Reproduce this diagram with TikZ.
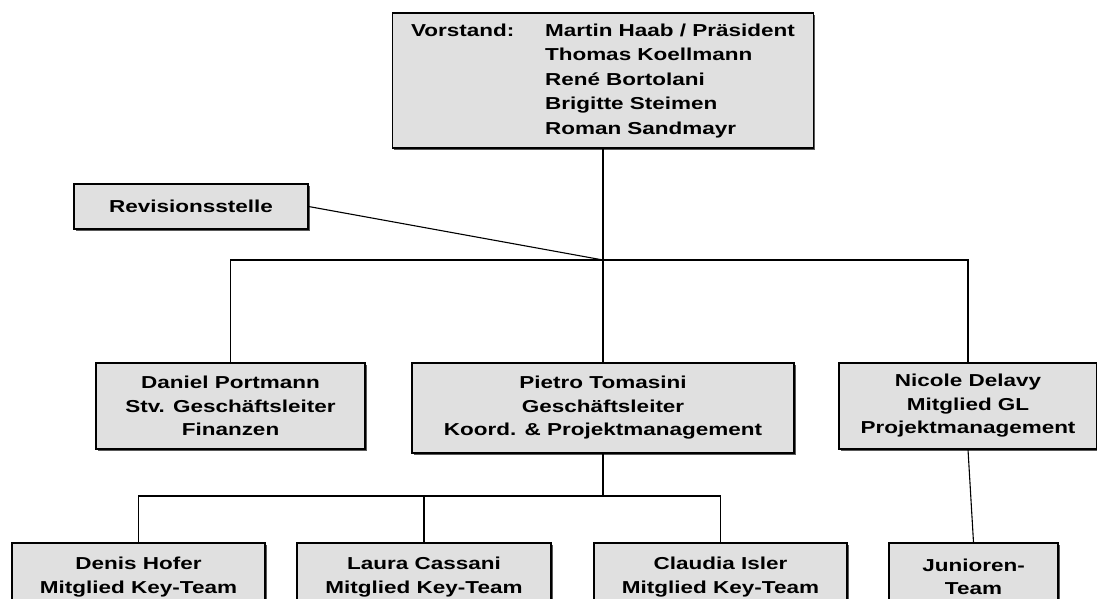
\documentclass[tikz,border=0pt]{standalone}
\usepackage{fontspec}
\setmainfont{Liberation Sans}[FakeStretch=1.3]
\usetikzlibrary{shadows}

\begin{document}
\begin{tikzpicture}
[x=1pt,y=-1pt,
 boxdecorate/.style={shape=rectangle,draw,line width=1.1pt,fill=black!12,inner sep=0pt,
   align=center,font=\bfseries\fontsize{17.3}{23.5}\selectfont,
   drop shadow={shadow xshift=1.8pt,shadow yshift=-1.8pt,fill=black!65,opacity=1}},%
 linedecorate/.style={line width=1.1pt}]
\clip (0,0) rectangle (1097,599);
%% boxes
\node (vorstand) at (603,80.5) [boxdecorate,minimum width=421,minimum height=135]
{\fontsize{17.3}{24.4}\selectfont\renewcommand\arraystretch{1}%
 \begin{tabular}{@{}p{134pt}@{}l@{}}
 Vorstand: & Martin Haab / Präsident\\
           & Thomas Koellmann\\
           & René Bortolani\\
           & Brigitte Steimen\\
           & Roman Sandmayr
 \end{tabular}};
\foreach \nodename/\x/\y/\bw/\bh/\boxtext in {
  rev/191/206.5/234/45/{Revisionsstelle},
  daniel/230.5/406/269/86/{Daniel Portmann\\Stv. Geschäftsleiter\\Finanzen},
  pietro/603/408/382/90/{Pietro Tomasini\\Geschäftsleiter\\Koord. \& Projektmanagement},
  nicole/968/406/258/86/{Nicole Delavy\\Mitglied GL\\Projektmanagement},
  denis/138.5/577/253/68/{Denis Hofer\\Mitglied Key-Team},
  laura/424/577/254/68/{Laura Cassani\\Mitglied Key-Team},
  claudia/720.5/577/253/68/{Claudia Isler\\Mitglied Key-Team},
  junioren/973.5/577/169/68/{Junioren-\\Team}}
{
  \node (\nodename) at (\x,\y) [boxdecorate,minimum width=\bw,minimum height=\bh] {\boxtext};
}
%% lines
\coordinate (hub) at (vorstand.south |- 0,260);
\coordinate (teamhub) at (pietro.south |- 0,496);
\draw[linedecorate] (vorstand.south) -- (hub);
\draw[linedecorate] (rev.east) -- (hub);
\draw[linedecorate] (daniel.north) |- (hub) -| (nicole.north);
\draw[linedecorate] (hub) -- (pietro.north);
\draw[linedecorate] (pietro.south) -- (teamhub);
\draw[linedecorate] (denis.north) |- (teamhub) -| (claudia.north);
\draw[linedecorate] (laura.north) -- (laura.north |- teamhub);
\draw[linedecorate] (nicole.south) -- (junioren.north);
\end{tikzpicture}
\end{document}
